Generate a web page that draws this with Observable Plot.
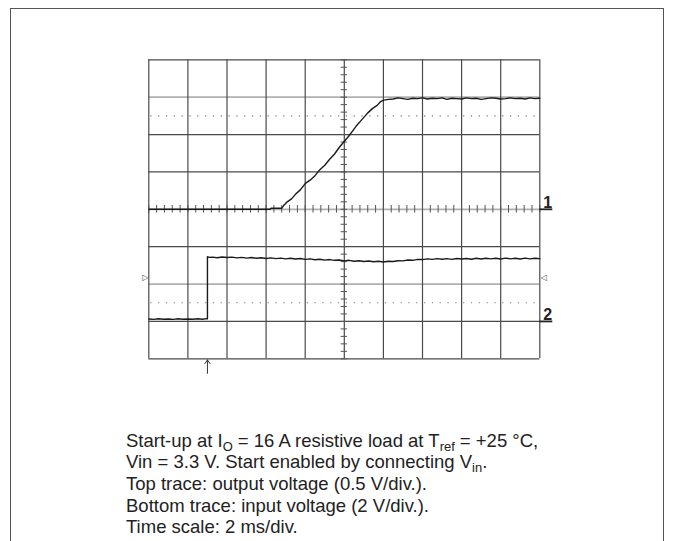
<!DOCTYPE html>
<html>
<head>
<meta charset="utf-8">
<script src="https://cdn.jsdelivr.net/npm/d3@7"></script>
<script src="https://cdn.jsdelivr.net/npm/@observablehq/plot@0.6"></script>
<style>
  html, body { margin: 0; padding: 0; background: #fff; }
  body { width: 673px; height: 541px; position: relative; overflow: hidden; font-family: "Liberation Sans", Arial, Helvetica, sans-serif; }
  #frame { position: absolute; left: 10px; top: 8px; width: 652px; height: 600px; border: 1.5px solid #555; box-sizing: content-box; }
  #chart { position: absolute; left: 0; top: 0; }
  #caption { position: absolute; left: 126px; top: 429.6px; font-size: 18.5px; line-height: 21.7px; color: #222; white-space: nowrap; }
  #caption sub { font-size: 0.7em; line-height: 0; vertical-align: -0.28em; }
</style>
</head>
<body>
<div id="frame"></div>
<div id="chart"></div>
<div id="caption"></div>
<script>
// ---- data (time in ms, voltage in V) ----
const ch1Time = [0, 6.2, 6.25, 6.8, 6.9, 7.08, 7.3, 7.5, 7.75, 8.01, 8.25, 8.5, 8.75, 9.0, 9.25, 9.5, 9.75, 9.97, 10.2, 10.4, 10.6, 10.83, 11.0, 11.2, 11.45, 11.68, 11.85, 12.02, 12.26, 12.5,
  12.75, 13.0, 13.25, 13.5, 13.75, 14.0, 14.25, 14.5, 14.75, 15.0, 15.25, 15.5, 15.75, 16.0, 16.25, 16.5, 16.75, 17.0, 17.25, 17.5, 17.75, 18.0, 18.25, 18.5, 18.75, 19.0, 19.25, 19.5, 19.75, 20.0];
const ch1Volts = [0, 0, 0.015, 0.015, 0.05, 0.10, 0.14, 0.20, 0.26, 0.346, 0.39, 0.45, 0.53, 0.59, 0.67, 0.74, 0.83, 0.90, 0.97, 1.04, 1.11, 1.18, 1.23, 1.29, 1.35, 1.39, 1.44, 1.46, 1.47, 1.475,
  1.49, 1.48, 1.47, 1.485, 1.48, 1.49, 1.475, 1.485, 1.48, 1.49, 1.47, 1.485, 1.48, 1.475, 1.49, 1.48, 1.485, 1.47, 1.48, 1.49, 1.485, 1.475, 1.48, 1.49, 1.48, 1.485, 1.475, 1.49, 1.48, 1.485];

const ch2Time = [0, 0.25, 0.5, 0.75, 1.0, 1.25, 1.5, 1.75, 2.0, 2.25, 2.5, 2.75, 2.95, 3.0, 3.0, 3.1,
  3.25, 3.5, 3.75, 4.0, 4.25, 4.5, 4.75, 5.0, 5.25, 5.5, 5.75, 6.0, 6.25, 6.5, 6.75, 7.0, 7.25, 7.5, 7.75, 8.0,
  8.25, 8.5, 8.75, 9.0, 9.25, 9.5, 9.75, 10.0, 10.25, 10.5, 10.75, 11.0, 11.25, 11.5, 11.75, 12.0,
  12.25, 12.5, 12.75, 13.0, 13.25, 13.5, 13.75, 14.0, 14.25, 14.5, 14.75, 15.0, 15.25, 15.5, 15.75, 16.0,
  16.25, 16.5, 16.75, 17.0, 17.25, 17.5, 17.75, 18.0, 18.25, 18.5, 18.75, 19.0, 19.25, 19.5, 19.75, 20.0];
const ch2Volts = [0.13, 0.11, 0.14, 0.12, 0.13, 0.11, 0.14, 0.12, 0.13, 0.12, 0.14, 0.12, 0.15, 0.14, 3.46, 3.43,
  3.44, 3.41, 3.45, 3.42, 3.44, 3.40, 3.43, 3.39, 3.42, 3.38, 3.41, 3.37, 3.40, 3.36, 3.39, 3.35, 3.38, 3.34, 3.37, 3.32,
  3.35, 3.30, 3.33, 3.28, 3.31, 3.27, 3.29, 3.24, 3.27, 3.22, 3.25, 3.21, 3.23, 3.19, 3.22, 3.18,
  3.22, 3.21, 3.25, 3.24, 3.29, 3.27, 3.32, 3.31, 3.35, 3.32, 3.36, 3.33, 3.36, 3.32, 3.37, 3.34,
  3.37, 3.33, 3.38, 3.34, 3.38, 3.35, 3.38, 3.34, 3.39, 3.35, 3.38, 3.34, 3.39, 3.35, 3.38, 3.36];

// scope settings
const timeDomain = [0, 20];          // 10 div x 2 ms/div
const divDomain = [0, 8];            // 8 vertical divisions
const ch1Ground = 4, ch1VoltsPerDiv = 0.5;
const ch2Ground = 1, ch2VoltsPerDiv = 2;
const triggerTime = 3.0;             // ms
const triggerLevel = 2.33;           // V on ch2

// graticule
const gridX = [0, 2, 4, 6, 8, 10, 12, 14, 16, 18, 20];
const darkRowsY = [0, 1, 3, 5, 6, 8];
const grayRowsY = [2, 4, 7];
const dottedRowsY = [1.5, 6.5];
const minorY = d3.range(0, 8.001, 0.2);
const minorX = d3.range(0, 20.001, 0.4);
const channelLabels = [{ch: "1", ground: ch1Ground}, {ch: "2", ground: ch2Ground}];

const captionLines = [
  'Start-up at I<sub>O</sub> = 16 A resistive load at T<sub>ref</sub> = +25 °C,',
  'Vin = 3.3 V. Start enabled by connecting V<sub>in</sub>.',
  'Top trace: output voltage (0.5 V/div.).',
  'Bottom trace: input voltage (2 V/div.).',
  'Time scale: 2 ms/div.'
];

// ---- chart ----
const ch1 = ch1Time.map((t, i) => ({t, v: ch1Volts[i]}));
const ch2 = ch2Time.map((t, i) => ({t, v: ch2Volts[i]}));

const W = 673, H = 390;
const mL = 148.3, mR = 133.7, mT = 59.3, mB = 31.7;
const pxPerMs = (W - mL - mR) / (timeDomain[1] - timeDomain[0]);
const pxPerDiv = (H - mT - mB) / (divDomain[1] - divDomain[0]);
const tickHalfMs = 3.2 / pxPerMs;
const tickHalfDiv = 3.8 / pxPerDiv;
const underlineMs = 13 / pxPerMs;
const font = "Liberation Sans, Arial, Helvetica, sans-serif";

const chart = Plot.plot({
  width: W, height: H,
  marginLeft: mL, marginRight: mR, marginTop: mT, marginBottom: mB,
  x: {domain: timeDomain, axis: null},
  y: {domain: divDomain, axis: null},
  style: {background: "transparent", overflow: "visible"},
  marks: [
    Plot.ruleY(grayRowsY, {stroke: "#b0b0b0", strokeWidth: 1.8}),
    Plot.ruleY(dottedRowsY, {stroke: "#777", strokeWidth: 1.1, strokeDasharray: "1.2,6.62", strokeDashoffset: -2}),
    Plot.ruleX(gridX, {stroke: "#4a4a4a", strokeWidth: 1.2}),
    Plot.ruleY(darkRowsY, {stroke: "#4a4a4a", strokeWidth: 1.2}),
    Plot.ruleY(minorY, {y: d => d, x1: 10 - tickHalfMs, x2: 10 + tickHalfMs, stroke: "#555", strokeWidth: 1}),
    Plot.ruleX(minorX, {x: d => d, y1: 4 - tickHalfDiv, y2: 4 + tickHalfDiv, stroke: "#555", strokeWidth: 1}),
    Plot.line(ch1, {x: "t", y: d => ch1Ground + d.v / ch1VoltsPerDiv, stroke: "#1a1a1a", strokeWidth: 1.4}),
    Plot.line(ch2, {x: "t", y: d => ch2Ground + d.v / ch2VoltsPerDiv, stroke: "#1a1a1a", strokeWidth: 1.4}),
    // trigger level markers
    Plot.text([triggerLevel], {x: timeDomain[0], y: d => ch2Ground + d / ch2VoltsPerDiv, text: () => "▷", dx: -3.5, fontSize: 8, fill: "#444", fontFamily: "DejaVu Sans"}),
    Plot.text([triggerLevel], {x: timeDomain[1], y: d => ch2Ground + d / ch2VoltsPerDiv, text: () => "◁", dx: 4, fontSize: 8, fill: "#444", fontFamily: "DejaVu Sans"}),
    // channel ground markers
    Plot.ruleY(channelLabels, {y: "ground", x1: timeDomain[1], x2: timeDomain[1] + underlineMs, stroke: "#222", strokeWidth: 1.8}),
    Plot.text(channelLabels, {x: timeDomain[1], y: "ground", text: "ch", dx: 8, dy: -1.5, lineAnchor: "bottom", fontSize: 16, fontWeight: "bold", fill: "#222", fontFamily: font}),
    // trigger position arrow
    Plot.arrow([triggerTime], {x1: d => d, x2: d => d, y1: -0.39, y2: -0.03, stroke: "#333", strokeWidth: 1, headLength: 7, headAngle: 70})
  ]
});
document.getElementById("chart").appendChild(chart);
document.getElementById("caption").innerHTML = captionLines.join("<br>");
</script>
</body>
</html>
